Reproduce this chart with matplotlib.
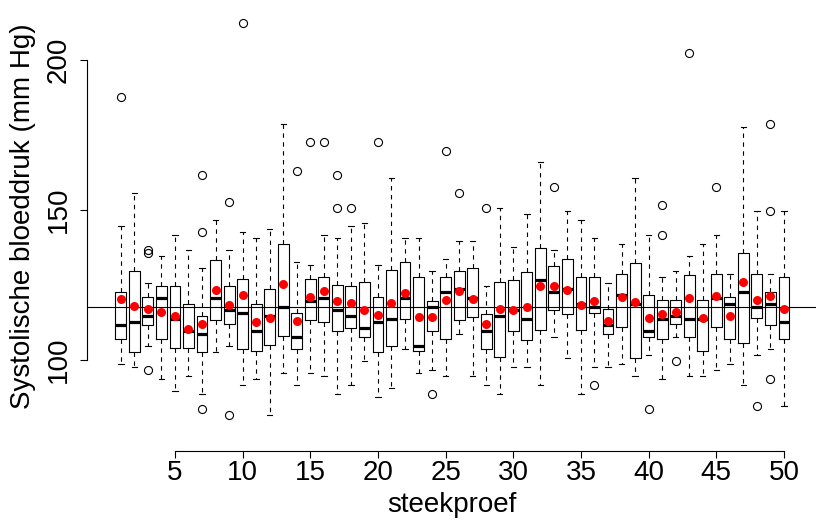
import numpy as np
import matplotlib
matplotlib.use("Agg")
import matplotlib.pyplot as plt

plt.rcParams['font.family'] = ['Liberation Sans', 'DejaVu Sans']

# samples 1..50, box statistics (mm Hg)
whislo = [98.6, 97.8, 104.6, 93.7, 89.6, 94.7, 88.6, 102.7, 104.6, 91.7,
          93.7, 81.7, 95.6, 91.7, 95.6, 94.7, 88.6, 91.7, 99.7, 87.7,
          90.7, 103.7, 95.6, 96.7, 94.7, 108.6, 94.7, 91.7, 88.6, 97.7,
          97.7, 91.7, 107.7, 100.7, 88.6, 97.7, 97.7, 98.7, 94.7, 101.7,
          93.7, 107.7, 94.7, 94.7, 96.7, 98.7, 91.7, 101.7, 103.7, 84.6]
q1 = [107.1, 102.7, 111.6, 107.1, 104.1, 104.1, 102.7, 113.2, 112.1, 103.6,
      103.1, 105.1, 108.1, 103.6, 113.2, 112.7, 109.7, 110.7, 107.7, 102.7,
      104.6, 113.7, 103.1, 109.7, 107.1, 113.2, 114.2, 103.6, 101.1, 109.7,
      106.7, 110.1, 116.7, 115.2, 110.1, 115.7, 108.6, 111.1, 100.7, 107.6,
      107.1, 112.1, 107.6, 103.1, 111.1, 107.1, 105.6, 114.1, 111.7, 107.1]
med = [111.6, 112.7, 114.6, 120.6, 113.8, 109.7, 108.8, 120.6, 116.8, 115.7,
       109.7, 114.6, 117.6, 107.7, 119.8, 120.7, 116.7, 114.6, 110.7, 112.7,
       113.7, 120.7, 104.6, 117.6, 122.7, 123.7, 120.7, 109.7, 114.7, 116.8,
       113.7, 126.7, 122.7, 123.7, 118.7, 117.7, 111.7, 121.7, 118.8, 109.7,
       113.7, 114.7, 113.7, 113.7, 120.7, 118.7, 122.7, 117.7, 118.7, 112.7]
q3 = [122.7, 129.7, 121.1, 124.7, 124.7, 118.7, 114.6, 133.2, 124.7, 127.1,
      118.7, 123.7, 138.7, 115.7, 127.1, 127.7, 125.1, 124.7, 126.1, 121.1,
      130.1, 132.7, 127.6, 119.6, 127.6, 129.7, 130.7, 115.2, 126.1, 126.7,
      129.2, 137.2, 131.2, 133.7, 127.7, 127.7, 117.1, 128.7, 132.2, 121.7,
      120.1, 120.1, 128.2, 120.1, 128.7, 121.1, 135.7, 128.7, 122.7, 127.6]
whishi = [144.6, 155.7, 125.7, 134.8, 141.7, 136.6, 130.6, 146.7, 136.6, 142.7,
          140.8, 143.8, 178.8, 132.7, 131.7, 141.7, 140.8, 144.7, 145.8, 131.7,
          160.7, 140.8, 140.8, 129.7, 133.7, 139.7, 139.7, 124.7, 150.8, 137.8,
          148.8, 165.9, 136.7, 149.8, 146.8, 140.8, 125.7, 138.7, 160.8, 141.7,
          127.7, 129.7, 134.8, 138.7, 141.7, 128.7, 177.8, 149.8, 128.7, 149.8]
means = [120.2, 118.0, 116.9, 116.0, 114.6, 110.2, 112.1, 123.3, 118.2, 121.6,
         112.7, 114.1, 125.3, 112.9, 120.9, 122.9, 119.8, 118.9, 116.8, 115.0,
         119.0, 122.2, 114.2, 114.3, 120.1, 123.1, 120.2, 111.9, 117.0, 116.8,
         117.6, 124.7, 124.8, 123.3, 118.2, 119.7, 113.0, 121.1, 119.2, 113.9,
         115.4, 116.0, 120.8, 114.1, 121.3, 114.7, 126.0, 119.9, 121.2, 116.9]
outliers = {1: [187.8], 3: [136.8, 135.7, 96.6], 7: [161.8, 142.7, 83.6],
            9: [152.7, 81.6], 10: [212.3], 14: [162.9], 15: [172.8],
            16: [172.8], 17: [161.8, 150.8], 18: [150.8], 20: [172.8],
            24: [88.6], 25: [169.8], 26: [155.8], 28: [150.8], 33: [157.8],
            36: [91.7], 40: [83.6], 41: [151.7, 141.7], 42: [99.7],
            43: [202.3], 45: [157.7], 48: [84.6], 49: [178.8, 149.8, 93.7]}
grand_mean = 117.8

n = len(med)
stats = []
for i in range(n):
    stats.append(dict(med=med[i], q1=q1[i], q3=q3[i], whislo=whislo[i],
                      whishi=whishi[i], fliers=outliers.get(i + 1, [])))

fig = plt.figure(figsize=(8.16, 5.23), dpi=100)
ax = fig.add_axes([0.1066, 0.1382, 0.8956, 0.8491])

pos = np.arange(1, n + 1)
ax.bxp(stats, positions=pos, widths=0.8, capwidths=0.4, showfliers=True,
       boxprops=dict(color='black', lw=0.8),
       medianprops=dict(color='black', lw=2.3, solid_capstyle='butt'),
       whiskerprops=dict(color='black', lw=0.8, linestyle=(0, (4, 4))),
       capprops=dict(color='black', lw=0.8),
       flierprops=dict(marker='o', mfc='none', mec='black', ms=5.8, mew=0.8))
ax.axhline(grand_mean, color='black', lw=0.8, zorder=3)
ax.plot(pos, means, 'o', color='red', ms=6.5, mew=0, zorder=4)

ax.set_xlim(-1.5, 52.5)
ax.set_ylim(69.8, 217.8)
for s in ['top', 'right']:
    ax.spines[s].set_visible(False)
ax.spines['left'].set_bounds(100, 200)
ax.spines['bottom'].set_bounds(5, 50)
for s in ['left', 'bottom']:
    ax.spines[s].set_linewidth(0.8)
ax.set_yticks([100, 150, 200])
ax.set_yticklabels(['100', '150', '200'], rotation=90, va='center')
ax.set_xticks(np.arange(5, 51, 5))
ax.set_xticklabels([str(v) for v in range(5, 51, 5)])
ax.tick_params(axis='both', direction='out', length=5, width=0.8,
               labelsize=20)
ax.tick_params(axis='y', pad=6)
ax.tick_params(axis='x', pad=2)

fig.text(452 / 816, 1 - 505 / 523, 'steekproef', ha='center', va='center',
         fontsize=20)
fig.text(23 / 816, 1 - 216 / 523, 'Systolische bloeddruk (mm Hg)',
         ha='center', va='center', rotation=90, fontsize=20)

fig.savefig('out.png', dpi=100)
